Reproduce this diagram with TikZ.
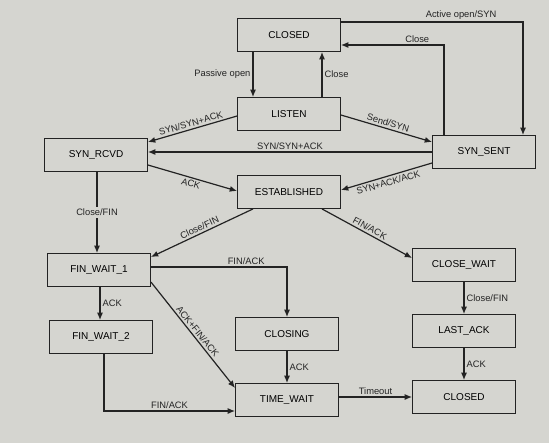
\documentclass[tikz,border=0pt]{standalone}
\usepackage{fontspec}
\setmainfont{Liberation Sans}
\usepackage{tikz}
\usetikzlibrary{calc,arrows.meta}
\definecolor{bgcol}{RGB}{213,213,208}
\definecolor{inkcol}{RGB}{35,35,35}
\tikzset{state/.style={draw=inkcol,line width=0.9pt,fill=bgcol,minimum width=77pt,minimum height=24.5pt,inner sep=0.75pt,font=\fontsize{7.5}{9}\selectfont},
    arr/.style={draw=inkcol,line width=0.9pt,-{Latex[length=5.5pt,width=4.5pt]}},
    lbl/.style={inner sep=1.5pt,font=\fontsize{7}{8}\selectfont,text=inkcol}}

\begin{document}
\begin{tikzpicture}[x=0.75pt,y=0.75pt,yscale=-1,xscale=1]
%set diagram area 549 x 443
\useasboundingbox[fill=bgcol] (0,0) rectangle (549,443);

% States
\node[state] (closedA) at (289,35) {CLOSED};
\node[state] (listen) at (289,114) {LISTEN};
\node[state] (synrcvd) at (96,155) {SYN\_RCVD};
\node[state] (synsent) at (484,152) {SYN\_SENT};
\node[state] (estab) at (289,192) {ESTABLISHED};
\node[state] (finwait1) at (99,270) {FIN\_WAIT\_1};
\node[state] (closewait) at (464,265) {CLOSE\_WAIT};
\node[state] (finwait2) at (101,337) {FIN\_WAIT\_2};
\node[state] (closing) at (287,334) {CLOSING};
\node[state] (lastack) at (464,331) {LAST\_ACK};
\node[state] (timewait) at (287,400) {TIME\_WAIT};
\node[state] (closedB) at (464,397) {CLOSED};

% Open / close
\draw[arr] ($(closedA.south)+(-36,0)$) -- node[lbl,left] {Passive open} ($(listen.north)+(-36,0)$);
\draw[arr] ($(listen.north)+(33,0)$) -- node[lbl,right] {Close} ($(closedA.south)+(33,0)$);
\draw[arr] ($(closedA.east)+(0,-13)$) -| node[lbl,above,pos=0.33] {Active open/SYN} ($(synsent.north)+(39,0)$);
\draw[arr] ($(synsent.north)+(-40,0)$) |- node[lbl,above,pos=0.63] {Close} ($(closedA.east)+(0,10)$);

% Handshake (rotate by hand, sloped turns the wrong way with yscale=-1)
\draw[arr] ($(listen.west)+(0,2)$) -- node[lbl,rotate=16,anchor=south] {SYN/SYN+ACK} ($(synrcvd.east)+(0,-13)$);
\draw[arr] ($(listen.east)+(0,1)$) -- node[lbl,rotate=-16,anchor=south] {Send/SYN} ($(synsent.west)+(0,-10)$);
\draw[arr] (synsent.west) -- node[lbl,above] {SYN/SYN+ACK} (synsent.west -| synrcvd.east);
\draw[arr] ($(synrcvd.east)+(0,10)$) -- node[lbl,rotate=-16,anchor=north] {ACK} ($(estab.west)+(0,-1)$);
\draw[arr] ($(synsent.west)+(0,11)$) -- node[lbl,rotate=16,anchor=north] {SYN+ACK/ACK} ($(estab.east)+(0,-2)$);

% Closing
\draw[arr] ($(synrcvd.south)+(1,0)$) -- node[lbl,fill=bgcol] {Close/FIN} ($(finwait1.north)+(-2,0)$);
\draw[arr] ($(estab.south)+(-36,0)$) -- node[lbl,rotate=25,anchor=south] {Close/FIN} ($(finwait1.east)+(0,-13)$);
\draw[arr] ($(estab.south)+(33,0)$) -- node[lbl,rotate=-29,anchor=south] {FIN/ACK} ($(closewait.west)+(0,-7)$);
\draw[arr] ($(finwait1.east)+(0,-3)$) -| node[lbl,above,pos=0.35] {FIN/ACK} (closing.north);
\draw[arr] ($(finwait1.south)+(1,0)$) -- node[lbl,right] {ACK} ($(finwait2.north)+(-1,0)$);
\draw[arr] ($(finwait1.east)+(0,12)$) -- node[lbl,rotate=-51,anchor=south] {ACK+FIN/ACK} ($(timewait.west)+(0,-12)$);
\draw[arr] ($(finwait2.south)+(3,0)$) |- node[lbl,above,pos=0.75] {FIN/ACK} ($(timewait.west)+(0,11)$);
\draw[arr] (closing.south) -- node[lbl,right] {ACK} (timewait.north);
\draw[arr] (closedB.west -| timewait.east) -- node[lbl,above] {Timeout} (closedB.west);
\draw[arr] (closewait.south) -- node[lbl,right] {Close/FIN} (lastack.north);
\draw[arr] (lastack.south) -- node[lbl,right] {ACK} (closedB.north);

\end{tikzpicture}
\end{document}
